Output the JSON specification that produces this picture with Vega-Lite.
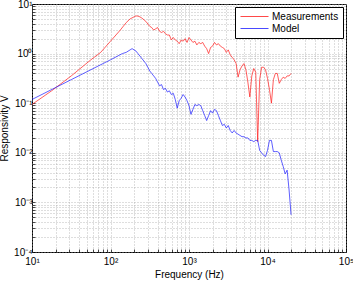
{
  "$schema": "https://vega.github.io/schema/vega-lite/v6.json",
  "width": 314,
  "height": 248,
  "autosize": {"type": "none"},
  "padding": {"left": 32, "top": 4, "right": 7, "bottom": 31},
  "background": "white",
  "config": {
    "font": "Liberation Sans",
    "view": {"stroke": "#000", "strokeWidth": 1},
    "axis": {
      "domain": false,
      "grid": true,
      "gridDash": [1, 2],
      "gridColor": "#a0a0a0",
      "gridWidth": 0.7,
      "ticks": true,
      "tickSize": -3,
      "tickColor": "#000",
      "tickWidth": 0.7,
      "labelFontSize": 10,
      "labelColor": "#000",
      "labelOverlap": false,
      "labelBound": false,
      "labelFlush": false,
      "titleFontSize": 10,
      "titleFontWeight": "normal",
      "titleColor": "#000"
    }
  },
  "data": {
    "values": [
      {"freq": 10, "resp": 0.0944, "series": "Measurements"},
      {"freq": 17.78, "resp": 0.1778, "series": "Measurements"},
      {"freq": 31.62, "resp": 0.3548, "series": "Measurements"},
      {"freq": 56.23, "resp": 0.7499, "series": "Measurements"},
      {"freq": 74.99, "resp": 1.059, "series": "Measurements"},
      {"freq": 100, "resp": 1.778, "series": "Measurements"},
      {"freq": 133.4, "resp": 2.985, "series": "Measurements"},
      {"freq": 158.5, "resp": 4.217, "series": "Measurements"},
      {"freq": 177.8, "resp": 5.012, "series": "Measurements"},
      {"freq": 199.5, "resp": 5.5, "series": "Measurements"},
      {"freq": 211.4, "resp": 5.75, "series": "Measurements"},
      {"freq": 223.9, "resp": 5.7, "series": "Measurements"},
      {"freq": 237.1, "resp": 5.5, "series": "Measurements"},
      {"freq": 251.2, "resp": 5.2, "series": "Measurements"},
      {"freq": 281.8, "resp": 4.467, "series": "Measurements"},
      {"freq": 316.2, "resp": 3.548, "series": "Measurements"},
      {"freq": 335.0, "resp": 3.350, "series": "Measurements"},
      {"freq": 354.8, "resp": 2.985, "series": "Measurements"},
      {"freq": 375.8, "resp": 3.162, "series": "Measurements"},
      {"freq": 398.1, "resp": 3.350, "series": "Measurements"},
      {"freq": 421.7, "resp": 2.818, "series": "Measurements"},
      {"freq": 446.7, "resp": 2.661, "series": "Measurements"},
      {"freq": 473.2, "resp": 2.818, "series": "Measurements"},
      {"freq": 501.2, "resp": 2.512, "series": "Measurements"},
      {"freq": 530.9, "resp": 2.371, "series": "Measurements"},
      {"freq": 562.3, "resp": 2.371, "series": "Measurements"},
      {"freq": 595.7, "resp": 1.884, "series": "Measurements"},
      {"freq": 631.0, "resp": 2.113, "series": "Measurements"},
      {"freq": 668.3, "resp": 1.884, "series": "Measurements"},
      {"freq": 707.9, "resp": 1.778, "series": "Measurements"},
      {"freq": 749.9, "resp": 1.585, "series": "Measurements"},
      {"freq": 794.3, "resp": 1.884, "series": "Measurements"},
      {"freq": 841.4, "resp": 1.778, "series": "Measurements"},
      {"freq": 891.3, "resp": 1.995, "series": "Measurements"},
      {"freq": 944.1, "resp": 1.679, "series": "Measurements"},
      {"freq": 1000, "resp": 2.113, "series": "Measurements"},
      {"freq": 1059, "resp": 1.884, "series": "Measurements"},
      {"freq": 1122, "resp": 1.679, "series": "Measurements"},
      {"freq": 1189, "resp": 1.778, "series": "Measurements"},
      {"freq": 1259, "resp": 1.496, "series": "Measurements"},
      {"freq": 1334, "resp": 1.679, "series": "Measurements"},
      {"freq": 1413, "resp": 1.585, "series": "Measurements"},
      {"freq": 1496, "resp": 1.679, "series": "Measurements"},
      {"freq": 1585, "resp": 1.413, "series": "Measurements"},
      {"freq": 1679, "resp": 1.259, "series": "Measurements"},
      {"freq": 1778, "resp": 1.0, "series": "Measurements"},
      {"freq": 1884, "resp": 1.334, "series": "Measurements"},
      {"freq": 1995, "resp": 1.413, "series": "Measurements"},
      {"freq": 2113, "resp": 1.679, "series": "Measurements"},
      {"freq": 2239, "resp": 1.496, "series": "Measurements"},
      {"freq": 2371, "resp": 1.585, "series": "Measurements"},
      {"freq": 2512, "resp": 1.413, "series": "Measurements"},
      {"freq": 2661, "resp": 1.334, "series": "Measurements"},
      {"freq": 2818, "resp": 1.259, "series": "Measurements"},
      {"freq": 2985, "resp": 1.059, "series": "Measurements"},
      {"freq": 3162, "resp": 1.189, "series": "Measurements"},
      {"freq": 3350, "resp": 0.9441, "series": "Measurements"},
      {"freq": 3548, "resp": 0.8414, "series": "Measurements"},
      {"freq": 3758, "resp": 0.7499, "series": "Measurements"},
      {"freq": 3981, "resp": 0.6310, "series": "Measurements"},
      {"freq": 4217, "resp": 0.3350, "series": "Measurements"},
      {"freq": 4467, "resp": 0.4732, "series": "Measurements"},
      {"freq": 4732, "resp": 0.5623, "series": "Measurements"},
      {"freq": 5012, "resp": 0.6310, "series": "Measurements"},
      {"freq": 5309, "resp": 0.4732, "series": "Measurements"},
      {"freq": 5623, "resp": 0.2661, "series": "Measurements"},
      {"freq": 5957, "resp": 0.1334, "series": "Measurements"},
      {"freq": 6310, "resp": 0.3548, "series": "Measurements"},
      {"freq": 6683, "resp": 0.5012, "series": "Measurements"},
      {"freq": 7079, "resp": 0.4217, "series": "Measurements"},
      {"freq": 7499, "resp": 0.01679, "series": "Measurements"},
      {"freq": 7943, "resp": 0.2985, "series": "Measurements"},
      {"freq": 8414, "resp": 0.5309, "series": "Measurements"},
      {"freq": 8913, "resp": 0.5309, "series": "Measurements"},
      {"freq": 9441, "resp": 0.4732, "series": "Measurements"},
      {"freq": 10000, "resp": 0.3162, "series": "Measurements"},
      {"freq": 10593, "resp": 0.1884, "series": "Measurements"},
      {"freq": 11220, "resp": 0.1, "series": "Measurements"},
      {"freq": 11885, "resp": 0.2985, "series": "Measurements"},
      {"freq": 12589, "resp": 0.3981, "series": "Measurements"},
      {"freq": 13335, "resp": 0.3981, "series": "Measurements"},
      {"freq": 14125, "resp": 0.2512, "series": "Measurements"},
      {"freq": 14962, "resp": 0.2985, "series": "Measurements"},
      {"freq": 15849, "resp": 0.3350, "series": "Measurements"},
      {"freq": 16788, "resp": 0.3162, "series": "Measurements"},
      {"freq": 17783, "resp": 0.3548, "series": "Measurements"},
      {"freq": 18836, "resp": 0.3548, "series": "Measurements"},
      {"freq": 19953, "resp": 0.3981, "series": "Measurements"},

      {"freq": 10, "resp": 0.1189, "series": "Model"},
      {"freq": 31.62, "resp": 0.2985, "series": "Model"},
      {"freq": 100, "resp": 0.7499, "series": "Model"},
      {"freq": 141.3, "resp": 1.0, "series": "Model"},
      {"freq": 158.5, "resp": 1.059, "series": "Model"},
      {"freq": 177.8, "resp": 1.189, "series": "Model"},
      {"freq": 188.4, "resp": 1.259, "series": "Model"},
      {"freq": 199.5, "resp": 1.189, "series": "Model"},
      {"freq": 211.4, "resp": 1.122, "series": "Model"},
      {"freq": 223.9, "resp": 1.0, "series": "Model"},
      {"freq": 237.1, "resp": 0.8913, "series": "Model"},
      {"freq": 251.2, "resp": 0.7943, "series": "Model"},
      {"freq": 266.1, "resp": 0.7079, "series": "Model"},
      {"freq": 281.8, "resp": 0.6310, "series": "Model"},
      {"freq": 298.5, "resp": 0.5309, "series": "Model"},
      {"freq": 316.2, "resp": 0.4467, "series": "Model"},
      {"freq": 335.0, "resp": 0.3981, "series": "Model"},
      {"freq": 354.8, "resp": 0.3548, "series": "Model"},
      {"freq": 375.8, "resp": 0.3162, "series": "Model"},
      {"freq": 398.1, "resp": 0.2661, "series": "Model"},
      {"freq": 421.7, "resp": 0.2239, "series": "Model"},
      {"freq": 446.7, "resp": 0.2371, "series": "Model"},
      {"freq": 473.2, "resp": 0.1884, "series": "Model"},
      {"freq": 501.2, "resp": 0.1995, "series": "Model"},
      {"freq": 530.9, "resp": 0.1679, "series": "Model"},
      {"freq": 562.3, "resp": 0.1778, "series": "Model"},
      {"freq": 595.7, "resp": 0.1496, "series": "Model"},
      {"freq": 631.0, "resp": 0.1585, "series": "Model"},
      {"freq": 668.3, "resp": 0.1189, "series": "Model"},
      {"freq": 707.9, "resp": 0.07943, "series": "Model"},
      {"freq": 749.9, "resp": 0.1122, "series": "Model"},
      {"freq": 794.3, "resp": 0.1259, "series": "Model"},
      {"freq": 841.4, "resp": 0.1496, "series": "Model"},
      {"freq": 891.3, "resp": 0.1334, "series": "Model"},
      {"freq": 944.1, "resp": 0.1122, "series": "Model"},
      {"freq": 1000, "resp": 0.08913, "series": "Model"},
      {"freq": 1059, "resp": 0.05957, "series": "Model"},
      {"freq": 1122, "resp": 0.07499, "series": "Model"},
      {"freq": 1189, "resp": 0.09441, "series": "Model"},
      {"freq": 1259, "resp": 0.08913, "series": "Model"},
      {"freq": 1334, "resp": 0.09441, "series": "Model"},
      {"freq": 1413, "resp": 0.08913, "series": "Model"},
      {"freq": 1496, "resp": 0.07079, "series": "Model"},
      {"freq": 1585, "resp": 0.05623, "series": "Model"},
      {"freq": 1679, "resp": 0.04467, "series": "Model"},
      {"freq": 1778, "resp": 0.05623, "series": "Model"},
      {"freq": 1884, "resp": 0.07079, "series": "Model"},
      {"freq": 1995, "resp": 0.06310, "series": "Model"},
      {"freq": 2113, "resp": 0.07499, "series": "Model"},
      {"freq": 2239, "resp": 0.07079, "series": "Model"},
      {"freq": 2371, "resp": 0.05623, "series": "Model"},
      {"freq": 2512, "resp": 0.04467, "series": "Model"},
      {"freq": 2661, "resp": 0.03548, "series": "Model"},
      {"freq": 2818, "resp": 0.03758, "series": "Model"},
      {"freq": 2985, "resp": 0.03162, "series": "Model"},
      {"freq": 3162, "resp": 0.03548, "series": "Model"},
      {"freq": 3350, "resp": 0.02818, "series": "Model"},
      {"freq": 3548, "resp": 0.02512, "series": "Model"},
      {"freq": 3758, "resp": 0.02818, "series": "Model"},
      {"freq": 3981, "resp": 0.02512, "series": "Model"},
      {"freq": 4217, "resp": 0.02371, "series": "Model"},
      {"freq": 4467, "resp": 0.02239, "series": "Model"},
      {"freq": 4732, "resp": 0.02113, "series": "Model"},
      {"freq": 5012, "resp": 0.02113, "series": "Model"},
      {"freq": 5309, "resp": 0.01995, "series": "Model"},
      {"freq": 5623, "resp": 0.01995, "series": "Model"},
      {"freq": 5957, "resp": 0.01778, "series": "Model"},
      {"freq": 6310, "resp": 0.01778, "series": "Model"},
      {"freq": 6683, "resp": 0.01679, "series": "Model"},
      {"freq": 7079, "resp": 0.01778, "series": "Model"},
      {"freq": 7499, "resp": 0.01778, "series": "Model"},
      {"freq": 7943, "resp": 0.01122, "series": "Model"},
      {"freq": 8414, "resp": 0.01, "series": "Model"},
      {"freq": 8913, "resp": 0.008913, "series": "Model"},
      {"freq": 9441, "resp": 0.008414, "series": "Model"},
      {"freq": 10000, "resp": 0.01122, "series": "Model"},
      {"freq": 10593, "resp": 0.01778, "series": "Model"},
      {"freq": 11220, "resp": 0.01778, "series": "Model"},
      {"freq": 11885, "resp": 0.01059, "series": "Model"},
      {"freq": 12589, "resp": 0.01059, "series": "Model"},
      {"freq": 13335, "resp": 0.01059, "series": "Model"},
      {"freq": 14125, "resp": 0.01, "series": "Model"},
      {"freq": 14962, "resp": 0.007079, "series": "Model"},
      {"freq": 15849, "resp": 0.005309, "series": "Model"},
      {"freq": 16788, "resp": 0.003758, "series": "Model"},
      {"freq": 17783, "resp": 0.004467, "series": "Model"},
      {"freq": 18836, "resp": 0.001778, "series": "Model"},
      {"freq": 19953, "resp": 0.0005623, "series": "Model"}
    ]
  },
  "mark": {"type": "line", "strokeWidth": 0.7, "clip": true},
  "encoding": {
    "x": {
      "field": "freq",
      "type": "quantitative",
      "scale": {"type": "log", "domain": [10, 100000]},
      "axis": {
        "title": "Frequency (Hz)",
        "values": [10, 20, 30, 40, 50, 60, 70, 80, 90, 100, 200, 300, 400, 500, 600, 700, 800, 900, 1000, 2000, 3000, 4000, 5000, 6000, 7000, 8000, 9000, 10000, 20000, 30000, 40000, 50000, 60000, 70000, 80000, 90000, 100000],
        "labelExpr": "abs(log(datum.value)/LN10 - round(log(datum.value)/LN10)) < 0.001 ? ['10¹','10²','10³','10⁴','10⁵'][round(log(datum.value)/LN10) - 1] : ''",
        "labelPadding": 7,
        "titlePadding": 3
      }
    },
    "y": {
      "field": "resp",
      "type": "quantitative",
      "scale": {"type": "log", "domain": [0.0001, 10]},
      "axis": {
        "title": "Responsivity V",
        "values": [0.0001, 0.0002, 0.0003, 0.0004, 0.0005, 0.0006, 0.0007, 0.0008, 0.0009, 0.001, 0.002, 0.003, 0.004, 0.005, 0.006, 0.007, 0.008, 0.009, 0.01, 0.02, 0.03, 0.04, 0.05, 0.06, 0.07, 0.08, 0.09, 0.1, 0.2, 0.3, 0.4, 0.5, 0.6, 0.7, 0.8, 0.9, 1, 2, 3, 4, 5, 6, 7, 8, 9, 10],
        "labelExpr": "abs(log(datum.value)/LN10 - round(log(datum.value)/LN10)) < 0.001 ? ['10⁻⁴','10⁻³','10⁻²','10⁻¹','10⁰','10¹'][round(log(datum.value)/LN10) + 4] : ''",
        "labelPadding": 3,
        "titlePadding": 4
      }
    },
    "color": {
      "field": "series",
      "type": "nominal",
      "scale": {"domain": ["Measurements", "Model"], "range": ["#ff1a1a", "#1a1aff"]},
      "legend": {
        "title": null,
        "orient": "top-right",
        "offset": 3,
        "symbolType": "M-2.8,0H2.8",
        "symbolSize": 100,
        "symbolStrokeWidth": 0.8,
        "symbolOffset": 10,
        "strokeColor": "#000",
        "fillColor": "#fff",
        "padding": 4,
        "rowPadding": 1,
        "labelFontSize": 10,
        "labelColor": "#000",
        "labelOffset": 12,
        "cornerRadius": 0
      }
    }
  }
}
